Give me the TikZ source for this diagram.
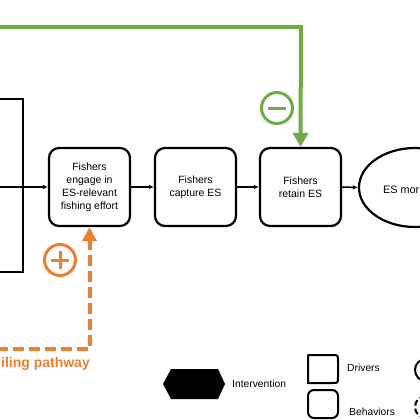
\documentclass[tikz,border=0pt]{standalone}
\usepackage{fontspec}
\setmainfont{Liberation Sans}
\usetikzlibrary{arrows.meta,shapes.geometric}
\definecolor{pgreen}{HTML}{6FAC45}
\definecolor{porange}{HTML}{EC7F30}
\tikzset{
  stepbox/.style={draw=black, line width=2.2bp, rounded corners=10bp, minimum width=81bp, minimum height=78bp, inner sep=0pt, align=center, font=\fontsize{10.5bp}{13bp}\selectfont},
  flow/.style={draw=black, line width=1.5bp, -{Latex[length=5bp,width=4.5bp]}},
  greenarrow/.style={draw=pgreen, line width=4bp, -{Triangle[length=14bp,width=15bp]}},
  orangearrow/.style={draw=porange, line width=4bp, dash pattern=on 11bp off 5bp, -{Triangle[length=14bp,width=14bp]}},
  signcircle/.style={circle, line width=3bp, minimum size=31bp, inner sep=0pt},
  legtext/.style={anchor=west, font=\fontsize{10.3bp}{12bp}\selectfont, inner sep=0pt},
}
\begin{document}
\begin{tikzpicture}[x=1bp,y=-1bp]
\useasboundingbox (0,0) rectangle (420,420);
\begin{scope}
\clip (0,0) rectangle (420,420);
% left driver box (cut off)
\draw[line width=2bp] (-10,99) -- (23,99) -- (23,272) -- (-10,272);
% flow boxes
\node[stepbox] (b1) at (89.5,187) {Fishers\\engage in\\ES-relevant\\fishing effort};
\node[stepbox] (b2) at (195.5,187) {Fishers\\capture ES};
\node[stepbox] (b3) at (300.5,187) {Fishers\\retain ES};
\node[draw=black, line width=2.2bp, ellipse, minimum width=112bp, minimum height=79bp, inner sep=0pt] (mort) at (415,187.5) {};
\node[anchor=west, inner sep=0pt, font=\fontsize{10.8bp}{13bp}\selectfont] (mortlabel) at (383,190) {ES mor};
\coordinate (inL) at (0,187);
\draw[flow] (inL) -- (b1.west);
\draw[flow] (b1.east) -- (b2.west);
\draw[flow] (b2.east) -- (b3.west);
\draw[flow] (b3.east) -- (mort.west);
% green pathway
\coordinate (gS) at (-5,27);
\coordinate (gC) at (301,27);
\draw[greenarrow] (gS) -- (gC) -- (b3.north);
\node[signcircle, draw=pgreen] (minus) at (277,108) {};
\draw[pgreen, line width=3bp] ([xshift=-9bp]minus.center) -- ([xshift=9bp]minus.center);
% orange pathway
\coordinate (oS) at (-3,349);
\coordinate (oC) at (89.5,349);
\draw[orangearrow] (oS) -- (oC) -- (b1.south);
\node[signcircle, draw=porange] (plus) at (60,260) {};
\draw[porange, line width=3bp] ([xshift=-9bp]plus.center) -- ([xshift=9bp]plus.center)
  ([yshift=-9bp]plus.center) -- ([yshift=9bp]plus.center);
\node[anchor=east, inner sep=0pt, text=porange, font=\bfseries\fontsize{14bp}{16bp}\selectfont] (otext) at (90,364) {iling pathway};
% legend
\fill[black] (163,384) -- (171,369) -- (218,369) -- (225,384) -- (218,399) -- (171,399) -- cycle;
\node[legtext] (lint) at (232,384) {Intervention};
\draw[line width=2bp] (308,383) -- (308,357) .. controls (308,355) .. (310,355) -- (332,355) .. controls (338,355) .. (338,361) -- (338,377) .. controls (338,383) .. (332,383) -- cycle;
\node[legtext] (ldrv) at (347,368) {Drivers};
\node[draw=black, line width=2bp, rounded corners=6bp, minimum width=30bp, minimum height=28bp, inner sep=0pt] (lbeh) at (323,404) {};
\node[legtext] (lbehtext) at (349,412) {Behaviors};
\node[draw=black, line width=2bp, circle, minimum size=22bp, inner sep=0pt] (lc1) at (426,370) {};
\node[draw=black, line width=2bp, dash pattern=on 6bp off 3bp, circle, minimum size=22bp, inner sep=0pt] (lc2) at (426,407) {};
\end{scope}
\end{tikzpicture}
\end{document}
